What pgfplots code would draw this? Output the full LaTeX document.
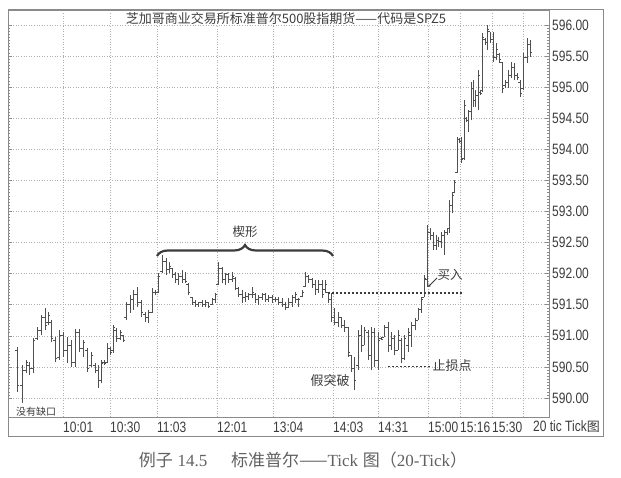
\documentclass[border=0pt]{standalone}
\usepackage{fontspec}
\setmainfont{Liberation Sans}
\newfontfamily\narrow[FakeStretch=0.8]{Liberation Sans}
\newfontfamily\cjk{Noto Sans CJK SC}
\newfontfamily\capserif{Liberation Serif}
\usepackage{pgfplots}
\pgfplotsset{compat=1.18}
\usepackage{pgfplotstable}
\usetikzlibrary{decorations.pathreplacing,arrows.meta}

\definecolor{ink}{HTML}{3C3C3C}
\definecolor{barc}{HTML}{505050}
\definecolor{gridc}{HTML}{B0B0B0}
\definecolor{framec}{HTML}{8A8A8A}

% open tick to the left, close tick to the right
\pgfdeclareplotmark{otick}{\pgfpathmoveto{\pgfqpoint{-1.7pt}{0pt}}\pgfpathlineto{\pgfqpoint{0pt}{0pt}}\pgfusepathqstroke}
\pgfdeclareplotmark{ctick}{\pgfpathmoveto{\pgfqpoint{0pt}{0pt}}\pgfpathlineto{\pgfqpoint{1.7pt}{0pt}}\pgfusepathqstroke}

% 20-tick bars: x position, open, high, low, close
\pgfplotstableread{
x o h l c
17 590.77 590.82 590.10 590.21
22 590.21 590.53 589.92 590.45
26 590.45 590.61 590.40 590.58
29 590.53 590.58 590.37 590.48
33 590.48 590.96 590.40 590.93
37 590.96 591.14 590.93 591.09
41 591.09 591.33 591.01 591.29
45 591.29 591.45 591.09 591.17
48 591.22 591.38 591.17 591.33
51 591.22 591.25 590.90 590.96
55 590.93 590.98 590.58 590.64
59 590.66 591.09 590.61 591.01
63 591.01 591.06 590.66 590.77
67 590.77 590.98 590.56 590.85
71 590.85 590.93 590.50 590.58
75 590.58 591.11 590.50 591.06
79 591.06 591.11 590.74 590.80
83 590.80 590.93 590.66 590.90
87 590.77 590.80 590.42 590.48
91 590.53 590.74 590.50 590.69
95 590.53 590.56 590.40 590.45
98 590.45 590.53 590.16 590.29
101 590.29 590.61 590.24 590.56
104 590.58 590.61 590.53 590.55
107 590.58 590.88 590.56 590.80
110 590.80 590.82 590.69 590.74
113 590.77 591.17 590.72 591.13
116 591.09 591.13 590.90 590.96
120 590.96 591.09 590.93 591.05
123 591.01 591.01 590.90 590.93
126 591.29 591.54 591.25 591.50
130 591.50 591.66 591.37 591.58
133 591.58 591.74 591.42 591.66
137 591.66 591.79 591.46 591.54
141 591.54 591.58 591.30 591.38
145 591.35 591.38 591.22 591.29
148 591.29 591.42 591.21 591.38
152 591.38 591.77 591.37 591.70
155 591.70 591.74 591.66 591.69
158 591.70 592.01 591.69 591.96
162 592.03 592.30 592.01 592.19
166 592.19 592.25 591.98 592.06
169 592.06 592.19 592.01 592.12
172 592.09 592.09 591.93 591.98
175 591.98 592.03 591.85 591.90
178 591.90 592.01 591.82 591.96
182 591.96 592.06 591.85 591.90
185 591.90 592.03 591.85 591.87
188 591.83 591.85 591.66 591.70
192 591.61 591.62 591.50 591.54
195 591.54 591.58 591.46 591.51
198 591.51 591.54 591.46 591.53
202 591.53 591.58 591.46 591.50
205 591.50 591.58 591.46 591.54
208 591.54 591.54 591.45 591.48
212 591.50 591.61 591.50 591.58
215 591.58 591.69 591.53 591.66
218 591.82 592.19 591.82 592.09
222 592.09 592.11 591.85 591.90
225 591.90 592.01 591.82 591.98
228 591.98 592.01 591.85 591.90
232 591.90 592.03 591.87 591.96
235 591.93 591.95 591.74 591.77
238 591.77 591.79 591.62 591.66
242 591.66 591.74 591.53 591.61
245 591.61 591.70 591.54 591.64
248 591.64 591.69 591.58 591.66
252 591.66 591.79 591.61 591.70
255 591.67 591.69 591.53 591.58
258 591.58 591.66 591.50 591.61
262 591.61 591.69 591.58 591.66
265 591.66 591.69 591.54 591.58
268 591.58 591.66 591.54 591.62
272 591.62 591.66 591.53 591.58
275 591.58 591.62 591.54 591.59
278 591.59 591.62 591.50 591.53
282 591.53 591.61 591.46 591.50
285 591.50 591.54 591.42 591.45
288 591.45 591.61 591.45 591.54
292 591.54 591.66 591.46 591.61
295 591.61 591.70 591.53 591.66
298 591.59 591.61 591.46 591.58
302 591.64 591.74 591.62 591.70
305 591.79 592.03 591.79 591.96
308 591.96 591.98 591.85 591.90
312 591.90 591.93 591.77 591.82
315 591.82 591.90 591.66 591.74
318 591.74 591.90 591.69 591.83
322 591.83 591.90 591.61 591.66
325 591.74 591.90 591.69 591.82
328 591.69 591.70 591.53 591.58
331 591.58 591.69 591.22 591.30
334 591.30 591.45 591.17 591.22
338 591.22 591.38 591.14 591.29
341 591.29 591.30 591.13 591.17
344 591.17 591.25 591.06 591.13
348 591.13 591.14 590.66 590.74
351 590.68 590.69 590.42 590.48
354 590.48 590.66 590.13 590.29
358 590.53 591.09 590.45 591.01
361 591.01 591.17 590.74 590.85
364 590.85 591.14 590.85 591.09
368 591.06 591.09 590.61 590.69
371 590.69 591.14 590.45 591.06
374 591.06 591.13 590.50 590.61
378 590.61 591.06 590.45 590.93
381 590.96 590.98 590.93 590.95
384 590.98 591.17 590.98 591.13
388 591.13 591.22 590.74 590.85
391 590.85 591.06 590.77 590.96
394 590.96 591.01 590.69 590.77
398 590.77 591.09 590.77 591.01
401 590.93 590.96 590.56 590.64
404 590.64 591.01 590.61 590.96
408 590.85 591.13 590.74 591.06
411 591.01 591.22 590.82 591.17
415 591.17 591.29 591.09 591.25
418 591.25 591.45 591.25 591.42
421 591.42 591.62 591.37 591.58
424 591.62 591.98 591.62 591.93
427 591.90 592.78 591.79 592.67
430 592.67 592.73 592.54 592.62
433 592.62 592.67 592.38 592.46
436 592.46 592.62 592.38 592.54
438 592.54 592.59 592.43 592.51
441 592.51 592.67 592.41 592.62
444 592.62 592.70 592.30 592.67
447 592.67 592.73 592.62 592.72
449 592.72 593.18 592.65 593.10
452 593.10 593.30 592.97 593.26
454 593.31 593.51 593.30 593.46
457 593.63 594.20 593.62 594.15
459 594.15 594.18 594.10 594.13
461 594.13 594.20 593.78 593.83
464 593.86 594.79 593.83 594.71
466 594.50 594.52 594.44 594.47
468 594.47 594.63 594.28 594.60
471 594.60 595.08 594.47 594.98
473 594.98 595.11 594.68 594.79
475 594.79 594.95 594.68 594.87
478 594.87 595.27 594.63 595.19
480 594.92 594.95 594.87 594.90
482 594.95 595.87 594.92 595.79
485 595.76 595.79 595.68 595.72
487 595.72 596.00 595.60 595.92
490 595.89 595.89 595.71 595.76
493 595.76 595.89 595.40 595.47
496 595.47 595.71 595.44 595.60
499 595.52 595.55 595.39 595.44
502 595.40 595.40 594.90 594.98
505 595.03 595.11 594.98 595.07
508 595.07 595.27 594.98 595.19
511 595.19 595.40 595.15 595.31
514 595.31 595.39 595.11 595.19
517 595.19 595.23 595.11 595.15
520 595.08 595.11 594.84 594.90
523 594.98 595.55 594.95 595.47
527 595.47 595.79 595.39 595.68
530 595.68 595.76 595.48 595.56
}\bars

\begin{document}
\begin{tikzpicture}
\useasboundingbox (0,0) rectangle (621pt,478pt);
\draw[framec, line width=1pt] (8pt,41pt) rectangle (603pt,468pt);
\begin{axis}[
    at={(8pt,61pt)}, anchor=south west,
    scale only axis, width=541pt, height=407pt,
    xmin=8, xmax=549, ymin=589.695, ymax=596.239,
    axis line style={framec, line width=0.8pt},
    /pgf/number format/assume math mode=true,
    xtick={63,110,157,217,273,333,378,428,460,492,523},
    xticklabels={10:01,10:30,11:03,12:01,13:04,14:03,14:31,15:00,15:16,15:30,},
    xtick style={draw=none},
    xticklabel style={anchor=west, inner sep=0pt, yshift=-10pt,
        font=\narrow\fontsize{15}{15}\selectfont, text=ink},
    ytick={590,590.5,591,591.5,592,592.5,593,593.5,594,594.5,595,595.5,596},
    minor y tick num=9,
    yticklabel pos=right, ytick pos=both,
    tick align=inside,
    major tick length=4pt, minor tick length=2.5pt,
    every tick/.append style={framec, line width=0.6pt},
    yticklabel style={anchor=west, inner sep=0pt, xshift=3pt,
        font=\narrow\fontsize{15}{15}\selectfont, text=ink,
        /pgf/number format/.cd, fixed, fixed zerofill, precision=2},
    xmajorgrids, ymajorgrids,
    major grid style={gridc, line width=0.6pt, dash pattern=on 1pt off 1.6pt},
]
\addplot[barc, line width=0.85pt, -, quiver={u=0, v=\thisrow{h}-\thisrow{l}}]
    table[x=x, y=l] {\bars};
\addplot[barc, only marks, mark=otick, mark options={line width=0.85pt}]
    table[x=x, y=o] {\bars};
\addplot[barc, only marks, mark=ctick, mark options={line width=0.85pt}]
    table[x=x, y=c] {\bars};
% buy level and stop level
\addplot[ink, line width=1.6pt, dash pattern=on 1.8pt off 2.2pt]
    coordinates {(328,591.69) (463,591.69)};
\addplot[ink, line width=1.6pt, dash pattern=on 1.8pt off 2.2pt]
    coordinates {(388,590.51) (432,590.51)};
\end{axis}

% wedge brace and arrow
\draw[ink, line width=2.2pt, decorate, decoration={brace, amplitude=11pt}]
    (157pt,222pt) -- (333pt,222pt);
\draw[ink, line width=0.8pt, -{Stealth[length=3pt,width=3pt]}] (437pt,200pt) -- (428pt,191pt);

\node[font=\cjk\fontsize{13}{13}\selectfont, text=ink] at (286pt,459pt)
    {芝加哥商业交易所标准普尔500股指期货——代码是SPZ5};
\node[font=\cjk\fontsize{12.5}{12.5}\selectfont, text=ink] at (245pt,246pt) {楔形};
\node[font=\cjk\fontsize{13}{13}\selectfont, text=ink] at (330pt,97pt) {假突破};
\node[font=\cjk\fontsize{13}{13}\selectfont, text=ink] at (452pt,112pt) {止损点};
\node[font=\cjk\fontsize{12.5}{12.5}\selectfont, text=ink] at (450pt,203pt) {买入};
\node[anchor=west, inner sep=0pt, font=\cjk\fontsize{10}{10}\selectfont, text=ink] at (16pt,66pt) {没有缺口};
\node[anchor=west, inner sep=0pt, font=\narrow\fontsize{15}{15}\selectfont, text=ink] at (533pt,51pt)
    {20 tic Tick{\cjk\fontsize{13}{13}\selectfont 图}};

\node[font=\fontsize{17}{17}\selectfont, text=black!62] at (303pt,18pt)
    {{\cjk 例子} {\capserif 14.5}\hspace{1.4em}{\cjk 标准普尔——}{\capserif Tick} {\cjk 图}{\cjk （}{\capserif 20-Tick}{\cjk ）}};
\end{tikzpicture}
\end{document}
